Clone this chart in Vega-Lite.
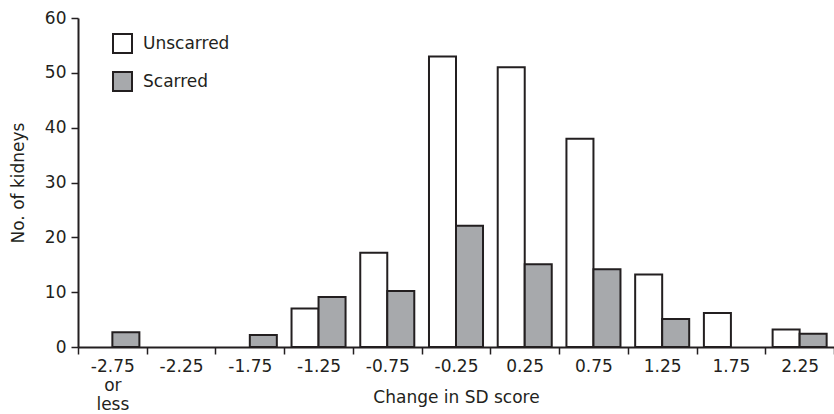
{
  "$schema": "https://vega.github.io/schema/vega-lite/v6.json",
  "width": 756,
  "height": 329,
  "autosize": {"type": "none"},
  "padding": {"left": 78, "top": 18, "right": 0, "bottom": 67},
  "background": "white",
  "data": {
    "values": [
      {"score": "-2.75 or less", "group": "Scarred", "count": 2.7},
      {"score": "-1.75", "group": "Scarred", "count": 2.2},
      {"score": "-1.25", "group": "Unscarred", "count": 7},
      {"score": "-1.25", "group": "Scarred", "count": 9.1},
      {"score": "-0.75", "group": "Unscarred", "count": 17.2},
      {"score": "-0.75", "group": "Scarred", "count": 10.2},
      {"score": "-0.25", "group": "Unscarred", "count": 53},
      {"score": "-0.25", "group": "Scarred", "count": 22.1},
      {"score": "0.25", "group": "Unscarred", "count": 51},
      {"score": "0.25", "group": "Scarred", "count": 15.1},
      {"score": "0.75", "group": "Unscarred", "count": 38},
      {"score": "0.75", "group": "Scarred", "count": 14.2},
      {"score": "1.25", "group": "Unscarred", "count": 13.2},
      {"score": "1.25", "group": "Scarred", "count": 5.1},
      {"score": "1.75", "group": "Unscarred", "count": 6.2},
      {"score": "2.25", "group": "Unscarred", "count": 3.2},
      {"score": "2.25", "group": "Scarred", "count": 2.4}
    ]
  },
  "mark": {"type": "bar", "stroke": "#231f20", "strokeWidth": 2},
  "encoding": {
    "x": {
      "field": "score",
      "type": "nominal",
      "sort": ["-2.75 or less", "-2.25", "-1.75", "-1.25", "-0.75", "-0.25", "0.25", "0.75", "1.25", "1.75", "2.25"],
      "scale": {"domain": ["-2.75 or less", "-2.25", "-1.75", "-1.25", "-0.75", "-0.25", "0.25", "0.75", "1.25", "1.75", "2.25"], "paddingInner": 0, "paddingOuter": 0},
      "axis": {
        "title": "Change in SD score",
        "labelAngle": 0,
        "domain": true,
        "tickBand": "extent",
        "labelExpr": "datum.label == '-2.75 or less' ? ['-2.75', 'or', 'less'] : datum.label",
        "labelLineHeight": 19,
        "titleBaseline": "alphabetic",
        "titleY": 55,
        "zindex": 1
      }
    },
    "xOffset": {
      "field": "group",
      "type": "nominal",
      "sort": ["Unscarred", "Scarred"],
      "scale": {"domain": ["Unscarred", "Scarred"], "paddingInner": 0, "paddingOuter": 0.272}
    },
    "y": {
      "field": "count",
      "type": "quantitative",
      "scale": {"domain": [0, 60], "nice": false},
      "axis": {
        "title": "No. of kidneys",
        "values": [0, 10, 20, 30, 40, 50, 60],
        "grid": false,
        "domain": true,
        "zindex": 1,
        "titleBaseline": "alphabetic",
        "titleX": -55,
        "labelPadding": 5
      }
    },
    "fill": {
      "field": "group",
      "type": "nominal",
      "sort": ["Unscarred", "Scarred"],
      "scale": {"domain": ["Unscarred", "Scarred"], "range": ["#ffffff", "#a7a9ac"]},
      "legend": {
        "title": null,
        "orient": "none",
        "legendX": 34,
        "legendY": 15,
        "symbolType": "square",
        "symbolSize": 361,
        "symbolStrokeColor": "#231f20",
        "symbolStrokeWidth": 2,
        "symbolOpacity": 1,
        "rowPadding": 11,
        "labelOffset": 10,
        "labelFontSize": 17,
        "labelFont": "DejaVu Sans",
        "labelColor": "#231f20"
      }
    }
  },
  "config": {
    "view": {"stroke": null},
    "axis": {
      "domainColor": "#231f20",
      "domainWidth": 2,
      "tickColor": "#231f20",
      "tickWidth": 1.5,
      "tickSize": 7,
      "labelFont": "DejaVu Sans",
      "labelFontSize": 17,
      "labelColor": "#231f20",
      "labelPadding": 4,
      "titleFont": "DejaVu Sans",
      "titleFontSize": 17,
      "titleFontWeight": "normal",
      "titleColor": "#231f20"
    }
  }
}
